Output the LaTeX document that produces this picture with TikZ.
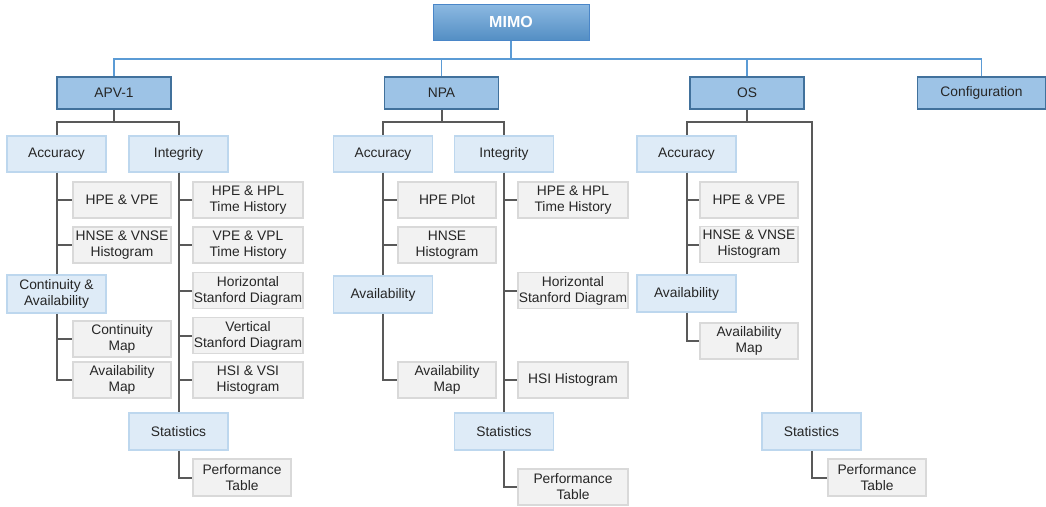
\documentclass[tikz,border=0pt]{standalone}
\usepackage{fontspec}
\setmainfont{Liberation Sans}
\definecolor{topblue}{HTML}{5B9BD5}
\definecolor{topedge}{HTML}{4A86C8}
\definecolor{midblue}{HTML}{9DC3E6}
\definecolor{midedge}{HTML}{41719C}
\definecolor{subblue}{HTML}{DEEBF7}
\definecolor{subedge}{HTML}{BDD7EE}
\definecolor{leafgray}{HTML}{F2F2F2}
\definecolor{leafedge}{HTML}{D9D9D9}
\definecolor{wire}{HTML}{595959}
\definecolor{ink}{HTML}{262626}
\begin{document}
\begin{tikzpicture}[x=1pt, y=-1pt,
    box/.style={rectangle, align=center, inner sep=0.5pt, text=ink,
      font=\fontsize{13.8}{16}\selectfont},
    rootbox/.style={box, draw=topedge, line width=1pt, top color=topblue!70!white,
      bottom color=topblue!92!black, text=white, minimum width=156pt, minimum height=36pt,
      font=\fontsize{16}{19}\selectfont\bfseries},
    mainbox/.style={box, draw=midedge, line width=1.8pt, fill=midblue,
      minimum width=114pt, minimum height=32pt},
    groupbox/.style={box, draw=subedge, line width=1.5pt, fill=subblue,
      minimum width=99pt, minimum height=36pt},
    leafbox/.style={box, draw=leafedge, line width=1.5pt, fill=leafgray,
      minimum width=98pt, minimum height=36pt},
    wideleaf/.style={leafbox, minimum width=110pt},
    bluewire/.style={draw=topblue, line width=1.8pt},
    graywire/.style={draw=wire, line width=2pt}]
    \useasboundingbox (0,0) rectangle (1046,506);
    % top levels
    \node[rootbox] (mimo) at (511,22) {MIMO};
    \node[mainbox] (apv) at (114,93) {APV-1};
    \node[mainbox] (npa) at (441.5,93) {NPA};
    \node[mainbox] (os) at (747,93) {OS};
    \node[mainbox, minimum width=128pt] (cfg) at (981.5,93) {Configuration};
    \coordinate (mimobus) at (511,59);
    \draw[bluewire] (mimo.south) -- (mimobus);
    \draw[bluewire] (mimobus) -| (apv.north);
    \draw[bluewire] (mimobus) -| (npa.north);
    \draw[bluewire] (mimobus) -| (os.north);
    \draw[bluewire] (mimobus) -| (cfg.north);
    % APV-1
    \node[groupbox] (apvacc) at (56.5,154) {Accuracy};
    \node[groupbox] (apvint) at (178.5,154) {Integrity};
    \node[groupbox, minimum height=38pt] (apvca) at (56.5,294) {Continuity \&\\Availability};
    \node[groupbox, minimum height=37pt] (apvstat) at (178.5,431.5) {Statistics};
    \node[leafbox] (apvhpe) at (122,200) {HPE \& VPE};
    \node[leafbox] (apvhnse) at (122,245) {HNSE \& VNSE\\Histogram};
    \node[leafbox] (apvcon) at (122,339) {Continuity\\Map};
    \node[leafbox] (apvavm) at (122,380) {Availability\\Map};
    \node[wideleaf] (apvhpl) at (248,200) {HPE \& HPL\\Time History};
    \node[wideleaf] (apvvpl) at (248,245) {VPE \& VPL\\Time History};
    \node[wideleaf] (apvhsd) at (248,290.5) {Horizontal\\Stanford Diagram};
    \node[wideleaf] (apvvsd) at (248,335.5) {Vertical\\Stanford Diagram};
    \node[wideleaf] (apvhsi) at (248,380) {HSI \& VSI\\Histogram};
    \node[leafbox, minimum height=37pt] (apvperf) at (242,477.5) {Performance\\Table};
    \coordinate (apvbus) at (114,122);
    \draw[graywire] (apv.south) -- (apvbus);
    \draw[graywire] (apvbus) -| (apvacc.north);
    \draw[graywire] (apvbus) -| (apvint.north);
    \draw[graywire] (apvacc.south) -- (apvca.north);
    \draw[graywire] (apvacc.south) |- (apvhpe.west);
    \draw[graywire] (apvacc.south) |- (apvhnse.west);
    \draw[graywire] (apvca.south) |- (apvcon.west);
    \draw[graywire] (apvca.south) |- (apvavm.west);
    \draw[graywire] (apvint.south) -- (apvstat.north);
    \draw[graywire] (apvint.south) |- (apvhpl.west);
    \draw[graywire] (apvint.south) |- (apvvpl.west);
    \draw[graywire] (apvint.south) |- (apvhsd.west);
    \draw[graywire] (apvint.south) |- (apvvsd.west);
    \draw[graywire] (apvint.south) |- (apvhsi.west);
    \draw[graywire] (apvstat.south) |- (apvperf.west);
    % NPA
    \node[groupbox] (npaacc) at (383,154) {Accuracy};
    \node[groupbox] (npaint) at (504,154) {Integrity};
    \node[groupbox, minimum height=37pt] (npaavl) at (383,294.5) {Availability};
    \node[groupbox, minimum height=37pt] (npastat) at (504,431.5) {Statistics};
    \node[leafbox] (npahpe) at (447,200) {HPE Plot};
    \node[leafbox] (npahnse) at (447,245) {HNSE\\Histogram};
    \node[leafbox] (npaavm) at (447,380) {Availability\\Map};
    \node[wideleaf] (npahpl) at (573,200) {HPE \& HPL\\Time History};
    \node[wideleaf] (npahsd) at (573,290.5) {Horizontal\\Stanford Diagram};
    \node[wideleaf] (npahsi) at (573,380) {HSI Histogram};
    \node[wideleaf] (npaperf) at (573,487) {Performance\\Table};
    \coordinate (npabus) at (441.5,122);
    \draw[graywire] (npa.south) -- (npabus);
    \draw[graywire] (npabus) -| (npaacc.north);
    \draw[graywire] (npabus) -| (npaint.north);
    \draw[graywire] (npaacc.south) -- (npaavl.north);
    \draw[graywire] (npaacc.south) |- (npahpe.west);
    \draw[graywire] (npaacc.south) |- (npahnse.west);
    \draw[graywire] (npaavl.south) |- (npaavm.west);
    \draw[graywire] (npaint.south) -- (npastat.north);
    \draw[graywire] (npaint.south) |- (npahpl.west);
    \draw[graywire] (npaint.south) |- (npahsd.west);
    \draw[graywire] (npaint.south) |- (npahsi.west);
    \draw[graywire] (npastat.south) |- (npaperf.west);
    % OS
    \node[groupbox] (osacc) at (686.5,154) {Accuracy};
    \node[groupbox, minimum height=37pt] (osavl) at (686.5,293.5) {Availability};
    \node[groupbox, minimum height=37pt] (osstat) at (811.5,431.5) {Statistics};
    \node[leafbox] (oshpe) at (749,200) {HPE \& VPE};
    \node[leafbox] (oshnse) at (749,244.5) {HNSE \& VNSE\\Histogram};
    \node[leafbox] (osavm) at (749,341) {Availability\\Map};
    \node[leafbox, minimum height=37pt] (osperf) at (877,477.5) {Performance\\Table};
    \coordinate (osbus) at (747,122);
    \draw[graywire] (os.south) -- (osbus);
    \draw[graywire] (osbus) -| (osacc.north);
    \draw[graywire] (osbus) -| (osstat.north);
    \draw[graywire] (osacc.south) -- (osavl.north);
    \draw[graywire] (osacc.south) |- (oshpe.west);
    \draw[graywire] (osacc.south) |- (oshnse.west);
    \draw[graywire] (osavl.south) |- (osavm.west);
    \draw[graywire] (osstat.south) |- (osperf.west);
\end{tikzpicture}
\end{document}
